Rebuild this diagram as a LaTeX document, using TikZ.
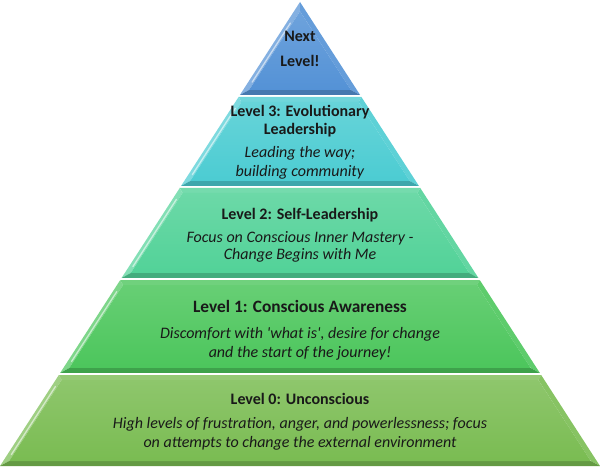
\documentclass[tikz,border=0pt]{standalone}
\usepackage{fontspec}
\setmainfont{Carlito}
\usetikzlibrary{calc, positioning}

\definecolor{topblue}{RGB}{84, 146, 214}
\definecolor{evocyan}{RGB}{76, 204, 210}
\definecolor{selfmint}{RGB}{82, 210, 152}
\definecolor{awaregreen}{RGB}{76, 198, 92}
\definecolor{uncolive}{RGB}{122, 188, 82}

\begin{document}
\begin{tikzpicture}[
  x=0.75pt, y=0.75pt,
  lvltext/.style={align=center, font=\fontsize{12}{14.3}\selectfont, text=black!90},
  glint/.style={white, opacity=0.55, line width=1pt, line cap=round}
]
  \useasboundingbox (0,0) rectangle (600,469);
  \coordinate (apex) at (300,467);
  \coordinate (bl) at (0,3);
  \coordinate (br) at (600,3);

  % layers: top row / bottom row (pixels from the top) / colour
  \foreach \ytop/\ybot/\col in {375/466/uncolive, 280/373/awaregreen, 188/278/selfmint, 97/186/evocyan}{
    \coordinate (lt) at ($(apex)!{(\ytop-2)/464}!(bl)$);
    \coordinate (rt) at ($(apex)!{(\ytop-2)/464}!(br)$);
    \coordinate (lb) at ($(apex)!{(\ybot-2)/464}!(bl)$);
    \coordinate (rb) at ($(apex)!{(\ybot-2)/464}!(br)$);
    \coordinate (ilt) at ($(lt)+(2.8,-5)$);
    \coordinate (irt) at ($(rt)+(-2.8,-5)$);
    \coordinate (ilb) at ($(lb)+(9.2,5)$);
    \coordinate (irb) at ($(rb)+(-9.2,5)$);
    \fill[\col!80!white] (lt) -- (rt) -- (irt) -- (ilt) -- cycle;
    \fill[\col!72!white] (lt) -- (ilt) -- (ilb) -- (lb) -- cycle;
    \fill[\col!90!white] (rt) -- (rb) -- (irb) -- (irt) -- cycle;
    \fill[\col!82!black] (lb) -- (ilb) -- (irb) -- (rb) -- cycle;
    \shade[top color=\col!85!white, bottom color=\col] (ilt) -- (irt) -- (irb) -- (ilb) -- cycle;
    \draw[glint] ($(ilt)!.08!(ilb)+(-2,0)$) -- ($(ilt)!.92!(ilb)+(-2,0)$);
  }

  % top triangle
  \coordinate (lb) at ($(apex)!{93/464}!(bl)$);
  \coordinate (rb) at ($(apex)!{93/464}!(br)$);
  \coordinate (iapex) at ($(apex)+(0,-9.3)$);
  \coordinate (ilb) at ($(lb)+(9.2,5)$);
  \coordinate (irb) at ($(rb)+(-9.2,5)$);
  \fill[topblue!72!white] (apex) -- (iapex) -- (ilb) -- (lb) -- cycle;
  \fill[topblue!90!white] (apex) -- (rb) -- (irb) -- (iapex) -- cycle;
  \fill[topblue!82!black] (lb) -- (ilb) -- (irb) -- (rb) -- cycle;
  \shade[top color=topblue!85!white, bottom color=topblue] (iapex) -- (irb) -- (ilb) -- cycle;
  \draw[glint] ($(iapex)!.15!(ilb)+(-2,0)$) -- ($(iapex)!.9!(ilb)+(-2,0)$);

  \node[lvltext] (next) at (300,420.5) {\textbf{Next}\\[4.5pt]\textbf{Level!}};
  \node[lvltext] (evo) at (300,326.5) {\textbf{Level 3: Evolutionary}\\[-1pt]\textbf{Leadership}\\[3pt]\textit{Leading the way;}\\\textit{building community}};
  \node[lvltext] (self) at (300,233.5) {\textbf{Level 2: Self-Leadership}\\[3pt]\textit{Focus on Conscious Inner Mastery -}\\[-1.5pt]\textit{Change Begins with Me}};
  \node[lvltext] (aware) at (300,139) {\textbf{\fontsize{13}{14.3}\selectfont Level 1: Conscious Awareness}\\[5pt]\textit{Discomfort with \textquotesingle what is\textquotesingle, desire for change}\\\textit{and the start of the journey!}};
  \node[lvltext] (uncon) at (300,47.5) {\textbf{Level 0: Unconscious}\\[4pt]\textit{High levels of frustration, anger, and powerlessness; focus}\\\textit{on attempts to change the external environment}};
\end{tikzpicture}
\end{document}
